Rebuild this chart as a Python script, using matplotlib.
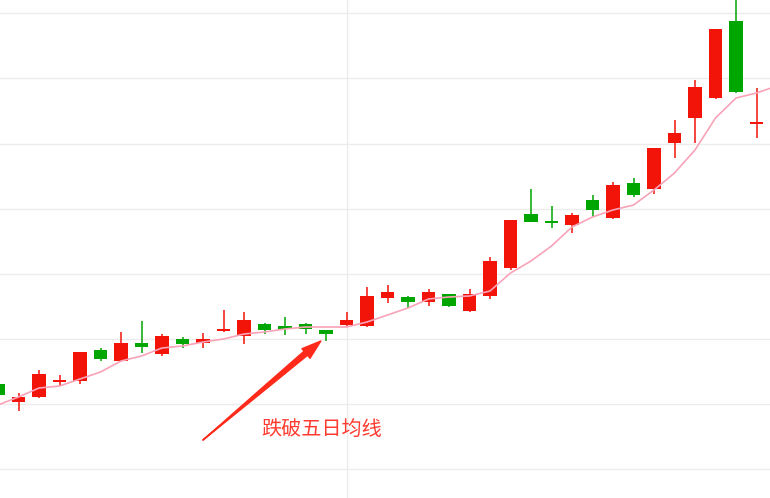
import numpy as np
import matplotlib
matplotlib.use("Agg")
import matplotlib.pyplot as plt

plt.rcParams['font.family'] = ['Noto Sans CJK SC', 'DejaVu Sans']

# daily candles (price units)
opens  = [114, 96, 101, 116, 117, 148, 137, 155, 144, 159, 155, 167, 162, 174, 172, 174, 168, 173, 172,
          200, 201, 196, 204, 187, 202, 230, 284, 277, 273, 298, 280, 315, 309, 355, 380, 400, 477, 374]
closes = [103, 101, 124, 118, 146, 139, 155, 151, 162, 154, 159, 169, 178, 168, 169, 169, 164, 178, 202,
          206, 196, 206, 192, 204, 237, 278, 276, 275, 283, 288, 313, 303, 350, 365, 411, 469, 406, 375]
highs  = [115, 105, 128, 123, 146, 150, 166, 177, 164, 161, 165, 188, 186, 175, 181, 175, 168, 186, 211,
          213, 202, 209, 204, 209, 241, 278, 309, 292, 285, 303, 316, 320, 350, 378, 418, 469, 510, 410]
lows   = [102, 87, 100, 112, 114, 137, 137, 145, 142, 150, 150, 166, 154, 164, 163, 164, 157, 172, 171,
          195, 190, 192, 191, 186, 199, 228, 276, 270, 265, 281, 279, 301, 304, 340, 355, 399, 405, 360]

# five-day moving average (one extra point past the right edge)
ma5 = [93, 101, 110, 112, 119, 126, 137, 142, 150, 152, 156, 159, 164, 166, 169, 171, 171, 171, 176,
       183, 190, 199, 201, 202, 207, 225, 237, 252, 271, 281, 288, 293, 308, 325, 348, 380, 400, 405, 412]

label = "跌破五日均线"

UP = '#f21409'
DOWN = '#00a600'
ARROW = '#ff2a1a'

fig = plt.figure(figsize=(7.7, 4.98), dpi=100)
ax = fig.add_axes([0, 0, 1, 1])

idx = np.arange(len(opens))
o = np.array(opens, dtype=float)
c = np.array(closes, dtype=float)
colors = [UP if cc >= oo else DOWN for oo, cc in zip(o, c)]

## wicks and bodies ##
ax.vlines(idx, lows, highs, colors=colors, linewidth=1.1, zorder=3)
body = np.maximum(np.abs(c - o), 1.6)
ax.bar(idx, body, bottom=np.minimum(o, c), width=0.64, color=colors, zorder=4)

ax.plot(np.arange(len(ma5)), ma5, color='#f9a3b8', linewidth=1.2, zorder=5)

## annotation: tapered shaft + head ##
tip = (15.75, 157)
tail = (10.0, 58)
ax.annotate("", xy=tail, xytext=(15.2, 148),
            arrowprops=dict(arrowstyle="wedge,tail_width=0.2,shrink_factor=0.55",
                            color=ARROW, shrinkA=0, shrinkB=0, mutation_scale=20),
            zorder=6)
ax.annotate("", xy=tip, xytext=tail,
            arrowprops=dict(arrowstyle="simple,head_length=0.7,head_width=0.45,tail_width=0.01",
                            color=ARROW, shrinkA=0, shrinkB=0, mutation_scale=20),
            zorder=6)
ax.text(12.85, 69, label, color='#ff3b30', fontsize=14.5, ha='left', va='center', zorder=6)

## grid ##
ax.set_xlim(2 / 20.5, 772 / 20.5)
ax.set_ylim(0, 498)
ax.set_yticks(np.arange(29, 490, 65.1))
ax.set_xticks([17])
ax.grid(True, color='#ececec', linewidth=1.0, zorder=0)
ax.set_axisbelow(True)
ax.tick_params(length=0, labelleft=False, labelbottom=False)
for s in ax.spines.values():
    s.set_visible(False)

fig.savefig("out.png", dpi=100)
